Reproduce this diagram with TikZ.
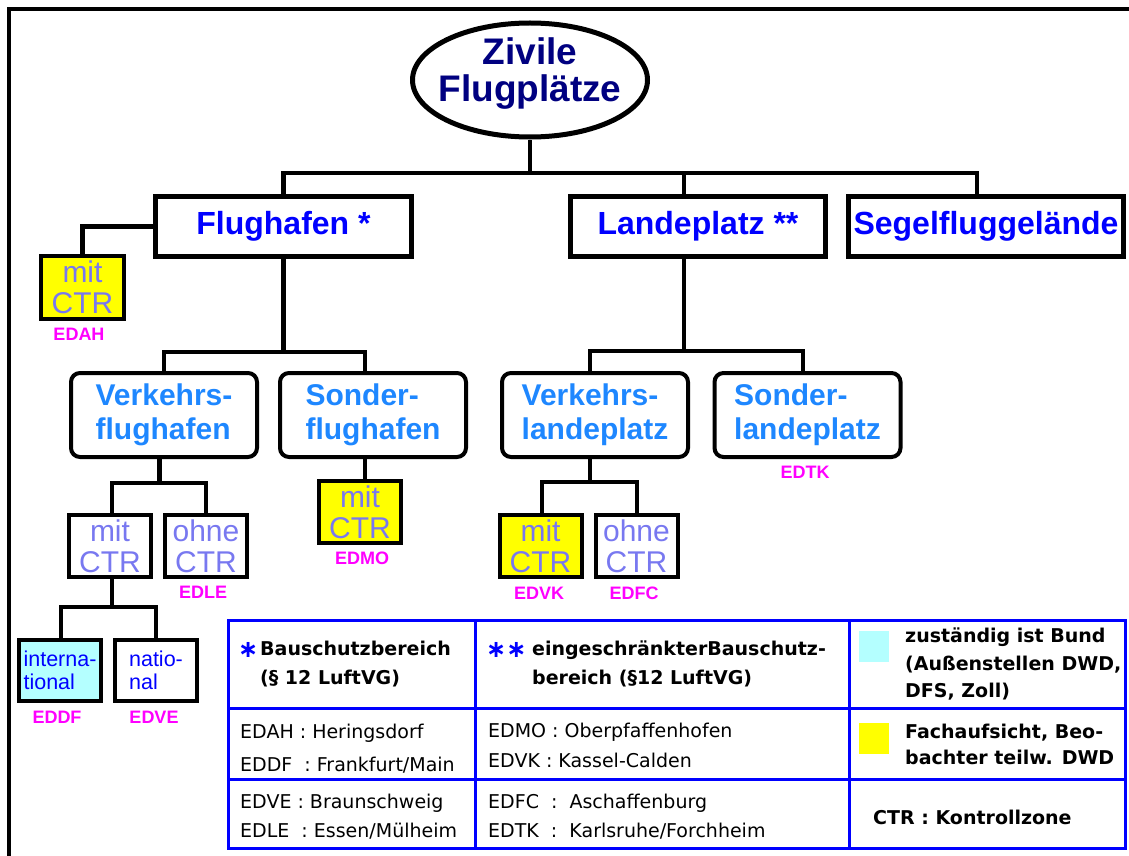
\documentclass[tikz,border=0pt]{standalone}
\usepackage{fontspec}
\setmainfont{Liberation Sans}
\newfontfamily\dvs{DejaVu Sans}
\usetikzlibrary{shapes.geometric}
\definecolor{navy}{HTML}{000080}
\definecolor{hblue}{HTML}{0000FF}
\definecolor{mblue}{HTML}{1E87FF}
\definecolor{cblue}{HTML}{7878F0}
\definecolor{mag}{HTML}{FF00FF}
\definecolor{lcyan}{HTML}{B4FFFF}
\definecolor{yel}{HTML}{FFFF00}
\newcommand{\fRoot}{\fontsize{37}{37}\selectfont\bfseries}
\newcommand{\fHead}{\fontsize{32}{36}\selectfont\bfseries}
\newcommand{\fSub}{\fontsize{30}{34}\selectfont\bfseries}
\newcommand{\fCtr}{\fontsize{30}{31}\selectfont}
\newcommand{\fLab}{\fontsize{18}{20}\selectfont\bfseries}
\newcommand{\fIntl}{\fontsize{21.5}{23}\selectfont}
\newcommand{\fTabSk}[1]{\dvs\fontsize{19}{#1}\selectfont}
\newcommand{\fTabBSk}[1]{\dvs\bfseries\fontsize{19}{#1}\selectfont}
\newcommand{\fStar}{\dvs\bfseries\fontsize{24}{24}\selectfont}
\begin{document}
\begin{tikzpicture}[x=1pt,y=-1pt,
  conn/.style={line width=4.5pt},
  ell/.style={draw, ellipse, line width=5pt, minimum width=235pt, minimum height=114pt, inner sep=0pt},
  tbox/.style={draw, line width=5pt, inner sep=0pt, minimum height=60pt, text=hblue, font=\fHead},
  rbox/.style={draw, line width=4pt, rounded corners=9pt, inner sep=0pt, minimum width=186pt, minimum height=84pt, text=mblue, font=\fSub, align=left},
  sbox/.style={draw, line width=4pt, inner sep=0pt, minimum width=82pt, minimum height=62pt, text=cblue, font=\fCtr, align=center},
  ibox/.style={draw, line width=4pt, inner sep=0pt, minimum width=82pt, minimum height=61pt, text=hblue, font=\fIntl, align=left},
  lab/.style={text=mag, font=\fLab, inner sep=0pt},
  tline/.style={draw=hblue, line width=3pt},
  cell/.style={anchor=north west, inner sep=0pt, align=left},
  tstar/.style={anchor=base west, inner sep=0pt, font=\fStar, text=hblue},
  swatch/.style={inner sep=0pt, minimum width=30pt, minimum height=31pt}
]
\useasboundingbox (0,0) rectangle (1129,856);

% frame
\draw[line width=3.5pt] (9,856) -- (9,9) -- (1129,9);

% root
\node[ell] (root) at (530,80) {};
\node[font=\fRoot, text=navy, align=center, inner sep=0pt] (roott) at (530,74) {Zivile\\Flugplätze};

% top level
\node[tbox, minimum width=256pt] (flug) at (283.5,226.5) {Flughafen *};
\node[tbox, minimum width=255pt] (land) at (698,226.5) {Landeplatz **};
\node[tbox, minimum width=275pt] (segel) at (986,226.5) {Segelfluggelände};

% second level
\node[rbox] (vf) at (164,415) {Verkehrs-\\flughafen};
\node[rbox] (sf) at (373,415) {Sonder-\\flughafen};
\node[rbox] (vl) at (595,415) {Verkehrs-\\landeplatz};
\node[rbox] (sl) at (807.5,415) {Sonder-\\landeplatz};

% small boxes
\node[sbox, fill=yel, minimum width=83pt, minimum height=63pt] (edah) at (82.5,287.5) {mit\\CTR};
\node[sbox] (mcA) at (110,546) {mit\\CTR};
\node[sbox] (ocA) at (206,546) {ohne\\CTR};
\node[sbox, fill=yel] (edmo) at (360,512) {mit\\CTR};
\node[sbox, fill=yel] (mcB) at (540.5,546) {mit\\CTR};
\node[sbox] (ocB) at (636.5,546) {ohne\\CTR};
\node[ibox, fill=lcyan] (intl) at (60,670.5) {interna-\\tional};
\node[ibox] (natl) at (156,670.5) {natio-\\nal};

% labels
\node[lab] (lEDAH) at (79,334) {EDAH};
\node[lab] (lEDLE) at (203,592) {EDLE};
\node[lab] (lEDDF) at (57,717) {EDDF};
\node[lab] (lEDVE) at (154,717) {EDVE};
\node[lab] (lEDMO) at (362,558) {EDMO};
\node[lab] (lEDVK) at (539,593) {EDVK};
\node[lab] (lEDFC) at (634,593) {EDFC};
\node[lab] (lEDTK) at (805,472) {EDTK};

% connectors top
\coordinate (tl) at (283.5,173);
\coordinate (tm) at (684,173);
\coordinate (tr) at (977,173);
\draw[conn] (root.south) -- (root.south |- tl);
\draw[conn] (flug.north) -- (tl) -- (tr) -- (tr |- segel.north);
\draw[conn] (tm) -- (tm |- land.north);

% EDAH
\draw[conn] (flug.west) -| (edah.north);

% Flughafen down
\coordinate (fm) at (283.5,352);
\coordinate (fl) at (164,352);
\coordinate (fr) at (365,352);
\draw[conn] (flug.south) -- (fm);
\draw[conn] (vf.north) -- (fl) -- (fr) -- (fr |- sf.north);

% Verkehrsflughafen down
\coordinate (am) at (159.5,483);
\coordinate (al) at (112,483);
\coordinate (ar) at (206,483);
\draw[conn] (vf.south -| am) -- (am);
\draw[conn] (mcA.north -| al) -- (al) -- (ar) -- (ocA.north -| ar);

% mit CTR down
\coordinate (bm) at (112,607);
\coordinate (bl) at (61,607);
\coordinate (br) at (156,607);
\draw[conn] (mcA.south -| bm) -- (bm);
\draw[conn] (intl.north -| bl) -- (bl) -- (br) -- (natl.north);

% Sonderflughafen down
\draw[conn] (sf.south -| fr) -- (edmo.north -| fr);

% Landeplatz down
\coordinate (lm) at (684,351);
\coordinate (ll) at (590,351);
\coordinate (lr) at (803,351);
\draw[conn] (land.south -| lm) -- (lm);
\draw[conn] (vl.north -| ll) -- (ll) -- (lr) -- (sl.north -| lr);

% Verkehrslandeplatz down
\coordinate (cm) at (590,482);
\coordinate (cl) at (542,482);
\coordinate (cr) at (637,482);
\draw[conn] (vl.south -| cm) -- (cm);
\draw[conn] (mcB.north -| cl) -- (cl) -- (cr) -- (ocB.north -| cr);

% legend table
\draw[tline] (228.5,620.5) rectangle (1125.5,848);
\draw[tline] (475,620.5) -- (475,848);
\draw[tline] (849.3,620.5) -- (849.3,848);
\draw[tline] (228.5,708) -- (1125.5,708);
\draw[tline] (228.5,779) -- (1125.5,779);

\node[tstar] (s1) at (238,657.5) {∗};
\node[cell, font=\fTabBSk{29}] (h1) at (260,640.6) {Bauschutzbereich\\(§ 12 LuftVG)};
\node[tstar] (s2) at (486,657.5) {∗∗};
\node[cell, font=\fTabBSk{29}] (h2) at (532,640.6) {eingeschränkterBauschutz-\\bereich (§12 LuftVG)};
\node[swatch, fill=lcyan] (sw1) at (874,646) {};
\node[cell, font=\fTabBSk{27.5}] (h3) at (905,627.6) {zuständig ist Bund\\(Außenstellen DWD,\\DFS, Zoll)};

\node[cell, font=\fTabSk{33}] (r1a) at (240,723.6) {EDAH : Heringsdorf\\EDDF~ : Frankfurt/Main};
\node[cell, font=\fTabSk{30}] (r1b) at (488,722.6) {EDMO : Oberpfaffenhofen\\EDVK : Kassel-Calden};
\node[cell, font=\fTabSk{29}] (r2a) at (240,793.6) {EDVE : Braunschweig\\EDLE~ : Essen/Mülheim};
\node[cell, font=\fTabSk{29}] (r2b) at (488,793.6) {EDFC~ : ~Aschaffenburg\\EDTK~ : ~Karlsruhe/Forchheim};
\node[swatch, fill=yel] (sw2) at (874,738.5) {};
\node[cell, font=\fTabBSk{26}] (f1) at (905,723.6) {Fachaufsicht, Beo-\\bachter teilw. DWD};
\node[cell, font=\fTabBSk{22}] (ctr) at (873,809.6) {CTR : Kontrollzone};
\end{tikzpicture}
\end{document}
